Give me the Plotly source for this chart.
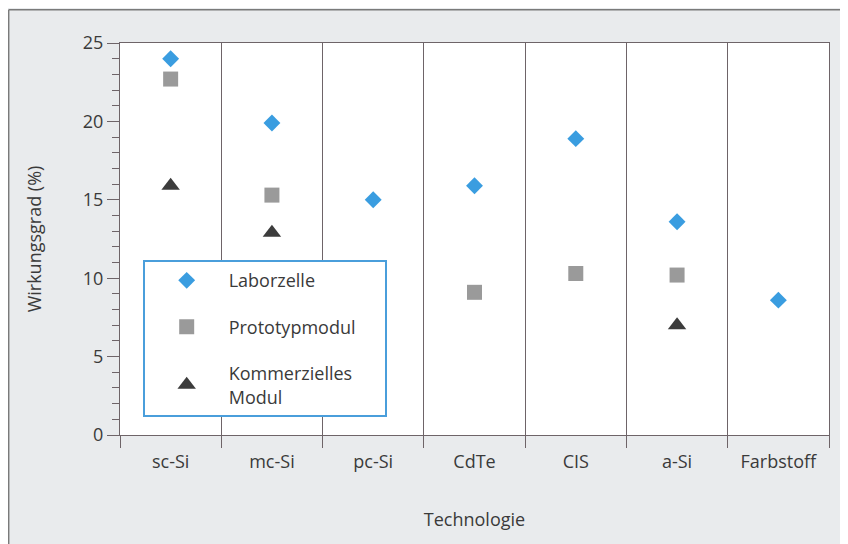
import plotly.graph_objects as go

categories = ["sc-Si", "mc-Si", "pc-Si", "CdTe", "CIS", "a-Si", "Farbstoff"]
laborzelle = [24.0, 19.9, 15.0, 15.9, 18.9, 13.6, 8.6]
prototyp_cats = ["sc-Si", "mc-Si", "CdTe", "CIS", "a-Si"]
prototypmodul = [22.7, 15.3, 9.1, 10.3, 10.2]
kommerz_cats = ["sc-Si", "mc-Si", "a-Si"]
kommerziell = [15.9, 12.9, 7.0]

FONT = "Open Sans"
TXT = "#3a3a3a"
FS = 18
LINE = "#6e6468"
PAD = "\u00a0" * 5

fig = go.Figure()
fig.add_trace(go.Scatter(x=categories, y=laborzelle, mode="markers", name="Laborzelle",
                         legendgroup="a",
                         marker=dict(symbol="diamond", size=13, color="#3a9de0")))
fig.add_trace(go.Scatter(x=prototyp_cats, y=prototypmodul, mode="markers", name="Prototypmodul" + PAD,
                         legendgroup="b",
                         marker=dict(symbol="square", size=15, color="#9a9a9a")))
fig.add_trace(go.Scatter(x=kommerz_cats, y=kommerziell, mode="markers", name="Kommerzielles<br>Modul",
                         legendgroup="c",
                         marker=dict(symbol="triangle-up", size=16, color="#3c3c3c")))

# figure is placed at (8, 8) in the page; plot area 120..829 x 43..435
fig.update_layout(
    width=840, height=536,
    margin=dict(l=112, r=19, t=35, b=109),
    paper_bgcolor="#e9ebed",
    plot_bgcolor="white",
    font=dict(family=FONT, size=FS, color=TXT),
    showlegend=True,
    legend=dict(x=0.032, y=0.446, xanchor="left", yanchor="top",
                bgcolor="white", bordercolor="#4a9edb", borderwidth=2,
                font=dict(family=FONT, size=FS, color=TXT),
                tracegroupgap=20, itemwidth=74,
                traceorder="grouped"),
    shapes=[
        dict(type="line", xref="paper", yref="paper", x0=-0.157, x1=-0.157, y0=-0.5, y1=1.085,
             line=dict(color="#7a7a7a", width=1.5), layer="below"),
        dict(type="line", xref="paper", yref="paper", x0=-0.157, x1=1.1, y0=1.085, y1=1.085,
             line=dict(color="#7a7a7a", width=1.5), layer="below"),
        dict(type="rect", xref="paper", yref="paper", x0=0, x1=1, y0=0, y1=1,
             line=dict(width=0), fillcolor="white", layer="below"),
    ],
)

fig.update_xaxes(
    type="category", categoryorder="array", categoryarray=categories,
    range=[-0.5, 6.5], tickson="boundaries",
    showgrid=True, gridcolor=LINE, gridwidth=1.3,
    showline=True, linecolor=LINE, linewidth=1.3, mirror=True,
    ticks="outside", ticklen=12, tickcolor=LINE, tickwidth=1.3,
    ticklabelstandoff=10,
    tickfont=dict(size=FS, color=TXT),
    title=dict(text="Technologie", font=dict(size=FS, color=TXT), standoff=41),
    zeroline=False,
)
fig.update_yaxes(
    range=[0, 25], tickvals=[0, 5, 10, 15, 20, 25],
    showgrid=False, zeroline=False,
    showline=True, linecolor=LINE, linewidth=1.3, mirror=True,
    ticks="outside", ticklen=12, tickcolor=LINE, tickwidth=1.3,
    minor=dict(dtick=1, ticks="outside", ticklen=7, tickcolor=LINE, tickwidth=1.2, showgrid=False),
    tickfont=dict(size=FS, color=TXT),
    title=dict(text="Wirkungsgrad (%)", font=dict(size=FS, color=TXT), standoff=36),
)

fig.write_html("out.html")
